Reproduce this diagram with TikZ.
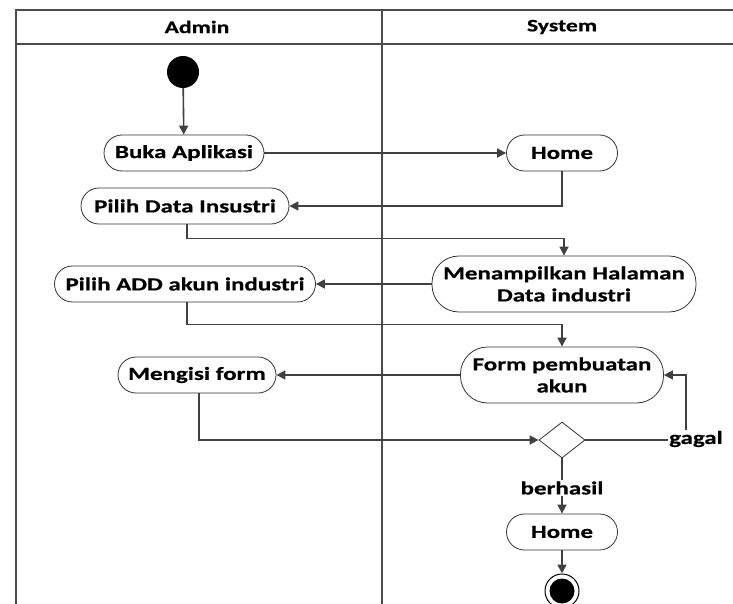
\documentclass[tikz,border=0pt]{standalone}
\usepackage{fontspec}
\setmainfont{Carlito}
\newfontfamily\diafont{Carlito}[FakeStretch=1.35,BoldFeatures={FakeBold=0.6}]
\usetikzlibrary{arrows.meta,shapes.geometric}
\begin{document}
\begin{tikzpicture}[x=1pt,y=-1pt,
  txt/.style={font=\diafont\bfseries\fontsize{18.5}{22}\selectfont},
  act/.style={txt, draw=black!80, line width=0.8pt, rounded corners=18pt, minimum height=36pt,
    align=center, inner sep=2pt},
  act2/.style={act, rounded corners=27pt, minimum height=56pt},
  flow/.style={draw=black!75, line width=1.6pt, -{Triangle[length=9pt,width=9pt]}},
  lane/.style={draw=black!70, line width=1.4pt},
  lbl/.style={txt, fill=white, inner sep=1pt},
  head/.style={font=\diafont\bfseries\fontsize{17.5}{20}\selectfont}
]
\useasboundingbox (0,0) rectangle (733,604);

% swimlanes
\draw[lane] (733,10) -- (16,10) -- (16,604);
\draw[lane] (16,44) -- (733,44);
\draw[lane] (382,10) -- (382,604);
\node[head] (hadmin) at (197,27) {Admin};
\node[head] (hsystem) at (562,27) {System};

% activity nodes
\node[circle, fill=black, minimum size=32pt, inner sep=0pt] (start) at (183,72) {};
\node[act, minimum width=160pt] (buka) at (184,153) {Buka Aplikasi};
\node[act, minimum width=111pt] (home1) at (562,153) {Home};
\node[act, minimum width=208pt] (pilihdata) at (185,206) {Pilih Data Insustri};
\node[act2, minimum width=264pt] (tampil) at (564,284) {Menampilkan Halaman\\Data industri};
\node[act, minimum width=261pt] (pilihadd) at (185,284) {Pilih ADD akun industri};
\node[act2, minimum width=203pt] (form) at (562,375) {Form pembuatan\\akun};
\node[act, minimum width=158pt] (isi) at (197,375) {Mengisi form};
\node[diamond, draw=black!80, line width=0.8pt, minimum width=46pt, minimum height=36pt, inner sep=0pt] (dec) at (562,440) {};
\node[act, minimum width=111pt] (home2) at (562,532) {Home};
\node[circle, draw=black, line width=1pt, fill=white, minimum size=34pt, inner sep=0pt] (end) at (562,591) {};
\fill[black] (end.center) circle (12.5pt);

\coordinate (gcorner) at (686,440);

% flows
\draw[flow] (start) -- (buka);
\draw[flow] (buka) -- (home1);
\draw[flow] (home1.south) |- (pilihdata.east);
\draw[flow] ([xshift=2pt]pilihdata.south) -- ++(0,14) -| (tampil.north);
\draw[flow] (tampil) -- (pilihadd);
\draw[flow] ([xshift=2pt]pilihadd.south) -- ++(0,22) -| (form.north);
\draw[flow] (form) -- (isi);
\draw[flow] ([xshift=2pt]isi.south) |- (dec.west);
\draw[flow] (dec.east) -- (gcorner) |- (form.east);
\node[lbl] (gagal) at (696,439) {gagal};
\draw[flow] (dec.south) -- (home2.north);
\node[lbl] (berhasil) at (562,488) {berhasil};
\draw[flow] (home2) -- (end);
\end{tikzpicture}
\end{document}
